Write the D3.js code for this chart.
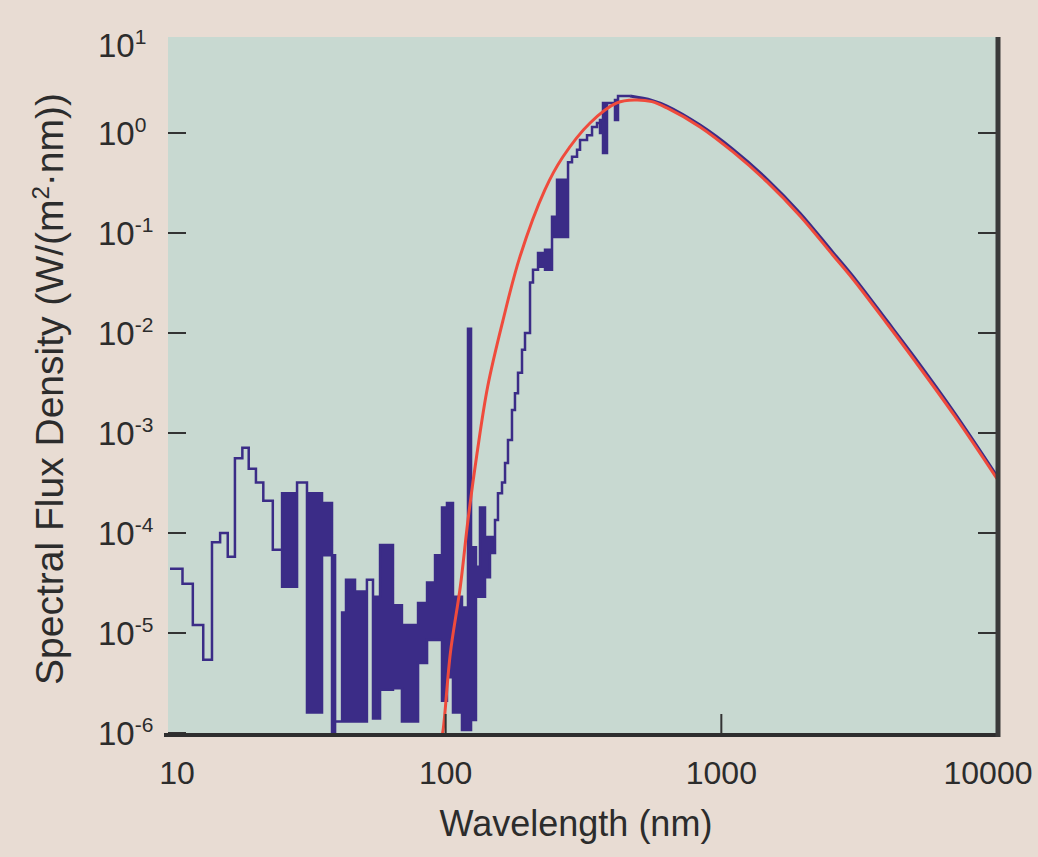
<!DOCTYPE html>
<html>
<head>
<meta charset="utf-8">
<script src="https://cdn.jsdelivr.net/npm/d3@7/dist/d3.min.js"></script>
<style>
  body { margin: 0; background: #e8dcd3; }
  svg { display: block; }
  text { font-family: "Liberation Sans", Arial, Helvetica, sans-serif; fill: #2c2c2c; }
</style>
</head>
<body>
<svg id="chart" width="1038" height="857"></svg>
<script>
// measured solar spectrum, short wavelengths: bin edges (nm) and
// upper / lower envelope of each bin (W/(m^2 nm)); hi == lo is a plain step
var binEdges = [10.0, 11.1, 12.1, 13.2, 14.2, 15.2, 16.2, 17.2, 18.3, 19.3, 20.5, 21.8, 23.6, 25.5,
    28.9, 31.4, 35.6, 38.7, 39.7, 42.1, 43.5, 46.9, 51.8, 54.5, 57.8, 64.4, 69.4, 79.4, 85.6, 91.5,
    97.0, 101.1, 106.3, 114.6, 120.5, 123.6, 128.8, 133.2, 138.9, 144.8, 151.0, 154.8, 160.1, 164.2,
    168.3, 174.0, 178.4, 183.0, 189.2, 194.0, 202.3, 207.4, 216.3, 229.3, 243.1, 253.5, 277.9, 287.3,
    299.6, 307.2, 325.7, 339.6, 354.0, 363.0, 372.2, 384.8, 411.4, 421.9, 466.5];
var fluxHi = [4.4e-5, 3.1e-5, 1.2e-5, 5.4e-6, 8.1e-5, 1.0e-4, 5.8e-5, 5.6e-4, 7.1e-4, 4.4e-4, 3.2e-4,
    2.1e-4, 6.8e-5, 2.5e-4, 3.2e-4, 2.5e-4, 2.0e-4, 6.0e-5, 1.3e-6, 1.6e-5, 3.4e-5, 2.6e-5, 3.4e-5,
    2.3e-5, 7.6e-5, 1.9e-5, 1.2e-5, 2.0e-5, 3.2e-5, 6.0e-5, 1.8e-4, 2.0e-4, 2.3e-5, 1.8e-5, 1.1e-2,
    7.2e-5, 4.6e-5, 1.8e-4, 9.1e-5, 9.1e-5, 1.35e-4, 2.5e-4, 3.2e-4, 5.0e-4, 8.5e-4, 1.7e-3, 2.5e-3,
    4.0e-3, 6.8e-3, 1.0e-2, 3.2e-2, 4.3e-2, 6.3e-2, 6.8e-2, 0.145, 0.34, 0.51, 0.58, 0.68, 0.85,
    0.95, 1.15, 1.26, 1.35, 2.0, 2.0, 2.14, 2.34];
var fluxLo = [4.4e-5, 3.1e-5, 1.2e-5, 5.4e-6, 8.1e-5, 1.0e-4, 5.8e-5, 5.6e-4, 7.1e-4, 4.4e-4, 3.2e-4,
    2.1e-4, 6.8e-5, 2.9e-5, 3.2e-4, 1.6e-6, 6.0e-5, 1.0e-6, 1.3e-6, 1.3e-6, 1.3e-6, 1.3e-6, 3.4e-5,
    1.4e-6, 2.7e-6, 2.8e-6, 1.3e-6, 5.0e-6, 8.5e-6, 8.5e-6, 2.1e-6, 3.6e-6, 1.6e-6, 1.07e-6, 1.07e-6,
    1.35e-6, 2.3e-5, 2.3e-5, 3.6e-5, 6.3e-5, 1.35e-4, 2.5e-4, 3.2e-4, 5.0e-4, 8.5e-4, 1.7e-3, 2.5e-3,
    4.0e-3, 6.8e-3, 1.0e-2, 3.2e-2, 4.3e-2, 4.6e-2, 4.3e-2, 0.091, 0.091, 0.51, 0.58, 0.68, 0.85,
    0.95, 1.15, 1.26, 1.0, 0.63, 2.0, 1.35, 2.34];

// measured spectrum, long wavelengths (lies just over the red curve)
var tailWavelength = [466.5, 560, 635, 837, 1100, 1465, 1930, 2540, 3000, 4000, 5000, 7000, 10000];
var tailFlux = [2.34, 2.12, 1.86, 1.2, 0.69, 0.345, 0.158, 0.064, 0.037, 0.0131, 0.0058, 0.0016, 0.00037];

// blackbody curve (red)
var bbWavelength = [96, 98, 104, 113, 120.5, 130, 142, 161, 186, 229, 266, 334, 418, 486, 560, 635,
    837, 1100, 1465, 1930, 2540, 3000, 4000, 5000, 7000, 10000];
var bbFlux = [8e-7, 1.1e-6, 6.3e-6, 2.9e-5, 1.35e-4, 6.3e-4, 2.9e-3, 1.3e-2, 5.8e-2, 0.27, 0.575,
    1.26, 2.0, 2.14, 2.06, 1.78, 1.15, 0.65, 0.324, 0.148, 0.060, 0.0347, 0.0123, 0.0054, 0.0015, 0.00035];

var yTickExp = [1, 0, -1, -2, -3, -4, -5, -6];
var xTickValues = [10, 100, 1000, 10000];

var svg = d3.select("#chart");

var x = d3.scaleLog().domain([10, 10000]).range([170, 997]);
var y = d3.scaleLog().domain([1e-6, 10]).range([733, 33]);

var blue = "#3b2c87";
var red = "#ef4b3c";

// panel
svg.append("rect")
    .attr("x", 168).attr("y", 37)
    .attr("width", 829).attr("height", 698)
    .attr("fill", "#c8d9d1");

svg.append("clipPath").attr("id", "plot-clip")
    .append("rect")
    .attr("x", 168).attr("y", 30)
    .attr("width", 829).attr("height", 704);

var plot = svg.append("g").attr("clip-path", "url(#plot-clip)");

// step spectrum as a band between the low and high envelope
var bins = fluxHi.map(function (d, i) {
    return {w: binEdges[i], hi: fluxHi[i], lo: fluxLo[i]};
});
bins.push({w: binEdges[binEdges.length - 1], hi: fluxHi[fluxHi.length - 1], lo: fluxLo[fluxLo.length - 1]});

var band = d3.area()
    .curve(d3.curveStepAfter)
    .x(d => x(d.w))
    .y0(d => y(d.lo))
    .y1(d => y(d.hi));

plot.append("path")
    .datum(bins)
    .attr("d", band)
    .attr("fill", blue)
    .attr("stroke", blue)
    .attr("stroke-width", 2.5)
    .attr("stroke-linejoin", "miter");

var smooth = d3.line().curve(d3.curveCatmullRom.alpha(0.5)).x(d => x(d.w)).y(d => y(d.f));

var tail = tailWavelength.map((w, i) => ({w: w, f: tailFlux[i]}));
plot.append("path")
    .datum(tail)
    .attr("d", smooth)
    .attr("fill", "none")
    .attr("stroke", blue)
    .attr("stroke-width", 3);

var bb = bbWavelength.map((w, i) => ({w: w, f: bbFlux[i]}));
plot.append("path")
    .datum(bb)
    .attr("d", smooth)
    .attr("fill", "none")
    .attr("stroke", red)
    .attr("stroke-width", 3);

// ticks (inward, on left, right and bottom)
var tickExp = yTickExp.filter(e => e <= 0);
svg.selectAll(".ltick").data(tickExp).join("line")
    .attr("class", "ltick")
    .attr("x1", 168).attr("x2", 186)
    .attr("y1", e => y(Math.pow(10, e))).attr("y2", e => y(Math.pow(10, e)))
    .attr("stroke", "#333").attr("stroke-width", 2);

svg.selectAll(".rtick").data(tickExp.filter(e => e > -6)).join("line")
    .attr("class", "rtick")
    .attr("x1", 978).attr("x2", 997)
    .attr("y1", e => y(Math.pow(10, e))).attr("y2", e => y(Math.pow(10, e)))
    .attr("stroke", "#333").attr("stroke-width", 2);

svg.selectAll(".btick").data([100, 1000]).join("line")
    .attr("class", "btick")
    .attr("x1", d => x(d)).attr("x2", d => x(d))
    .attr("y1", 733).attr("y2", 714)
    .attr("stroke", "#333").attr("stroke-width", 2);

// frame: bottom and right
svg.append("line")
    .attr("x1", 164).attr("x2", 1000)
    .attr("y1", 735).attr("y2", 735)
    .attr("stroke", "#2e2e2e").attr("stroke-width", 4);
svg.append("line")
    .attr("x1", 998).attr("x2", 998)
    .attr("y1", 37).attr("y2", 737)
    .attr("stroke", "#3a3a3a").attr("stroke-width", 5);

// y tick labels 10^n
var ylab = svg.selectAll(".ylab").data(yTickExp).join("text")
    .attr("class", "ylab")
    .attr("x", 98)
    .attr("y", e => e === 1 ? 57 : y(Math.pow(10, e)) + 12)
    .style("font-size", "33px");
ylab.append("tspan").text("10");
ylab.append("tspan")
    .attr("dy", -13)
    .style("font-size", "21px")
    .text(e => e);

// x tick labels (kept inside the page at both ends)
svg.selectAll(".xlab").data(xTickValues).join("text")
    .attr("class", "xlab")
    .attr("x", d => Math.min(Math.max(x(d), 177), 988))
    .attr("y", 784)
    .attr("text-anchor", "middle")
    .style("font-size", "32px")
    .text(d => d);

// axis titles
svg.append("text")
    .attr("x", 576).attr("y", 836)
    .attr("text-anchor", "middle")
    .style("font-size", "36px")
    .text("Wavelength (nm)");

svg.append("text")
    .attr("transform", "translate(63,389) rotate(-90)")
    .attr("text-anchor", "middle")
    .style("font-size", "39px")
    .html("Spectral Flux Density (W/(m<tspan dy='-14' style='font-size:24px'>2</tspan><tspan dy='14'>·nm))</tspan>");
</script>
</body>
</html>
